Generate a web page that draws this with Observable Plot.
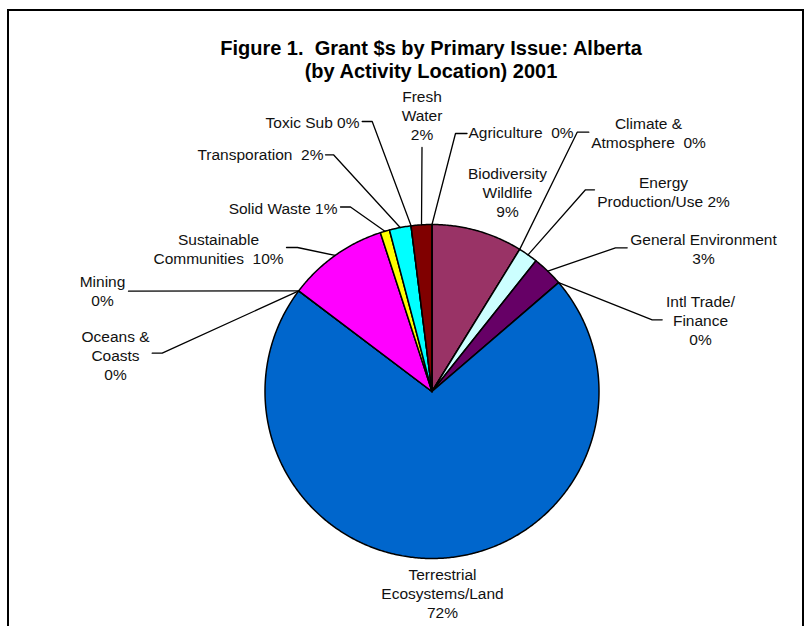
<!DOCTYPE html>
<html><head><meta charset="utf-8">
<script src="https://cdn.jsdelivr.net/npm/d3@7"></script>
<script src="https://cdn.jsdelivr.net/npm/@observablehq/plot@0.6"></script>
<style>
html,body{margin:0;padding:0;background:#fff;}
#chart{position:absolute;left:0;top:0;}
#chart svg text{white-space:pre;}
#frame{position:absolute;left:7px;top:9px;width:797px;height:640px;border:2px solid #000;border-bottom:none;box-sizing:border-box;}
.tl{position:absolute;left:131px;width:600px;text-align:center;font:bold 20px "Liberation Sans",Arial,sans-serif;color:#000;white-space:pre;line-height:23px;}
</style></head><body>
<div id="chart"></div>
<div id="frame"></div>
<div class="tl" style="top:37px">Figure 1.  Grant $s by Primary Issue: Alberta</div>
<div class="tl" style="top:60px">(by Activity Location) 2001</div>
<script>
// ---- data (clockwise from 12 o'clock) ----
const categories = ["Biodiversity Wildlife","Climate & Atmosphere","Energy Production/Use","General Environment","Intl Trade/Finance","Terrestrial Ecosystems/Land","Oceans & Coasts","Mining","Sustainable Communities","Solid Waste","Transporation","Toxic Sub","Fresh Water","Agriculture"];
const shares = [8.8, 0, 1.9, 3.0, 0, 71.6, 0, 0, 9.7, 0.9, 2.1, 0, 2.0, 0];
const labelText = [
  "Biodiversity\nWildlife\n{p}",
  "Climate &\nAtmosphere  {p}",
  "Energy\nProduction/Use {p}",
  "General Environment\n{p}",
  "Intl Trade/\nFinance\n{p}",
  "Terrestrial\nEcosystems/Land\n{p}",
  "Oceans &\nCoasts\n{p}",
  "Mining\n{p}",
  "Sustainable\nCommunities  {p}",
  "Solid Waste {p}",
  "Transporation  {p}",
  "Toxic Sub {p}",
  "Fresh\nWater\n{p}",
  "Agriculture  {p}"
];
const colors = ["#993366","#FFFFCC","#CCFFFF","#660066","#FF8080","#0066CC","#CCCCFF","#000080","#FF00FF","#FFFF00","#00FFFF","#800080","#800000","#9999FF"];

// ---- layout (page pixels) ----
const W = 812, H = 626;
const cx = 431.5, cy = 391, R = 167;
const lineStep = 18.8;
const labelLayout = [
  {x:507, y:174, anchor:"middle", leader:null},
  {x:648, y:124, anchor:"middle", leader:[[576.7,131.7],[588.3,131.7]]},
  {x:663, y:183, anchor:"middle", leader:[[585,189.3],[594,189.3]]},
  {x:703, y:240, anchor:"middle", leader:[[615,247.3],[626.7,247.3]]},
  {x:700, y:302, anchor:"middle", leader:[[651.7,319.3],[661.7,319.3]]},
  {x:442, y:575, anchor:"middle", leader:null},
  {x:115, y:337, anchor:"middle", leader:[[161.7,352.7],[151.7,352.7]]},
  {x:102, y:282, anchor:"middle", leader:[[128,290.7]]},
  {x:218, y:240, anchor:"middle", leader:[[297,247],[286,247]]},
  {x:337, y:209, anchor:"end", leader:[[350,206.5],[340,206.5]]},
  {x:323, y:155, anchor:"end", leader:[[333,154.3],[325,154.3]]},
  {x:359, y:123, anchor:"end", leader:[[371.7,121],[361.7,121]]},
  {x:421.5, y:97, anchor:"middle", leader:[[421.5,147]]},
  {x:468, y:133, anchor:"start", leader:[[455,133],[466.5,133]]}
];

const toU = (px, py) => ({u: (px - cx) / R, v: (cy - py) / R});

const rows = categories.map((name, i) => ({name, share: shares[i], i}));
const arcs = d3.pie().sort(null).value(d => d.share)(rows);

// slice polygons
const slicePts = [];
arcs.forEach(a => {
  const name = a.data.name;
  slicePts.push({name, u: 0, v: 0});
  const n = Math.max(1, Math.ceil((a.endAngle - a.startAngle) / (Math.PI / 360)));
  for (let k = 0; k <= n; k++) {
    const t = a.startAngle + (a.endAngle - a.startAngle) * k / n;
    slicePts.push({name, u: Math.sin(t), v: Math.cos(t)});
  }
  slicePts.push({name, u: 0, v: 0});
});

// leader lines and label text rows
const leaderPts = [];
const textRows = [];
arcs.forEach(a => {
  const i = a.data.i, name = a.data.name, L = labelLayout[i];
  const mid = (a.startAngle + a.endAngle) / 2;
  if (L.leader) {
    leaderPts.push({name, u: Math.sin(mid), v: Math.cos(mid)});
    L.leader.forEach(([px, py]) => leaderPts.push({name, ...toU(px, py)}));
  }
  const pct = Math.round(shares[i]) + "%";
  labelText[i].replace("{p}", pct).split("\n").forEach((t, k) => {
    textRows.push({t, anchor: L.anchor, ...toU(L.x, L.y + k * lineStep)});
  });
});

const plot = Plot.plot({
  width: W, height: H,
  margin: 0,
  x: {domain: [-cx / R, (W - cx) / R], axis: null},
  y: {domain: [(cy - H) / R, cy / R], axis: null},
  color: {domain: categories, range: colors},
  style: {fontFamily: "'Liberation Sans', Arial, sans-serif", background: "transparent"},
  marks: [
    Plot.line(slicePts, {x: "u", y: "v", z: "name", fill: "name", stroke: "#000", strokeWidth: 1.5, curve: "linear", strokeLinejoin: "round"}),
    Plot.line(leaderPts, {x: "u", y: "v", z: "name", stroke: "#000", strokeWidth: 1.3, curve: "linear"}),
    ...["start", "middle", "end"].map(an => Plot.text(textRows.filter(d => d.anchor === an), {
      x: "u", y: "v", text: "t", textAnchor: an, fontSize: 15.5, fill: "#111"
    }))
  ]
});
document.getElementById("chart").appendChild(plot);
</script>
</body></html>
